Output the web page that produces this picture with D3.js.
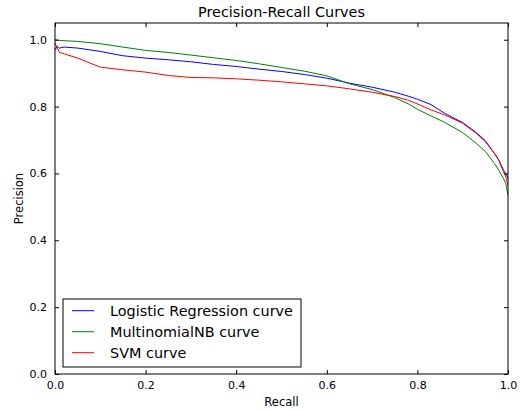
<!DOCTYPE html>
<html><head><meta charset="utf-8">
<script src="https://cdn.jsdelivr.net/npm/d3@7"></script>
<style>body{margin:0;background:#fff}svg{display:block}text{font-family:"DejaVu Sans",sans-serif;fill:#000}</style>
</head><body><svg id="c" width="521" height="411"></svg>
<script>
const recall = [0, 0.005, 0.01, 0.02, 0.05, 0.1, 0.15, 0.2, 0.25, 0.3, 0.35, 0.4, 0.45, 0.5, 0.55, 0.6, 0.65, 0.7, 0.75, 0.78, 0.8, 0.83, 0.86, 0.9, 0.93, 0.95, 0.97, 0.98, 0.99, 0.995, 1.0];
const lrPrecision = [0.97, 0.98, 0.975, 0.978, 0.975, 0.965, 0.952, 0.945, 0.94, 0.934, 0.926, 0.92, 0.912, 0.905, 0.896, 0.885, 0.870, 0.858, 0.843, 0.831, 0.822, 0.806, 0.780, 0.752, 0.722, 0.698, 0.66, 0.64, 0.61, 0.60, 0.585];
const nbPrecision = [1.0, 0.999, 0.998, 0.997, 0.995, 0.988, 0.978, 0.968, 0.962, 0.954, 0.946, 0.938, 0.928, 0.917, 0.906, 0.892, 0.868, 0.851, 0.827, 0.808, 0.792, 0.772, 0.753, 0.722, 0.690, 0.666, 0.63, 0.609, 0.585, 0.57, 0.535];
const svmPrecision = [0.99, 0.975, 0.962, 0.958, 0.945, 0.918, 0.910, 0.903, 0.893, 0.887, 0.886, 0.883, 0.879, 0.874, 0.868, 0.862, 0.853, 0.843, 0.830, 0.819, 0.808, 0.79, 0.775, 0.750, 0.720, 0.695, 0.66, 0.638, 0.605, 0.59, 0.565];
const seriesNames = ["Logistic Regression curve", "MultinomialNB curve", "SVM curve"];
const seriesColors = ["#0000ff", "#008000", "#ff0000"];
const xTicks = [0, 0.2, 0.4, 0.6, 0.8, 1.0];
const yTicks = [0, 0.2, 0.4, 0.6, 0.8, 1.0];

const series = [lrPrecision, nbPrecision, svmPrecision];
const L = 55, R = 508, T = 23, B = 374;
const svg = d3.select("#c");
const x = d3.scaleLinear().domain([0, 1]).range([L, R]);
const y = d3.scaleLinear().domain([0, 1.05]).range([B, T]);

const line = d3.line().x(d => x(d[0])).y(d => y(d[1]));
series.forEach((s, i) => {
  svg.append("path").datum(recall.map((r, j) => [r, s[j]]))
    .attr("d", line).attr("fill", "none").attr("stroke", seriesColors[i]).attr("stroke-width", 1);
});

const fmt = d3.format(".1f");
const ax = (g) => g.selectAll(".domain").remove();
svg.append("g").attr("transform", `translate(0,${B})`)
  .call(d3.axisBottom(x).tickValues(xTicks).tickFormat(fmt).tickSizeInner(-4).tickSizeOuter(0).tickPadding(7))
  .call(ax).call(g => g.selectAll("text").attr("font-size", 11).attr("font-family", "DejaVu Sans"));
svg.append("g").attr("transform", `translate(0,${T})`)
  .call(d3.axisTop(x).tickValues(xTicks).tickFormat("").tickSizeInner(-4).tickSizeOuter(0)).call(ax);
svg.append("g").attr("transform", `translate(${L},0)`)
  .call(d3.axisLeft(y).tickValues(yTicks).tickFormat(fmt).tickSizeInner(-4).tickSizeOuter(0).tickPadding(8))
  .call(ax).call(g => g.selectAll("text").attr("font-size", 11).attr("font-family", "DejaVu Sans"));
svg.append("g").attr("transform", `translate(${R},0)`)
  .call(d3.axisRight(y).tickValues(yTicks).tickFormat("").tickSizeInner(-4).tickSizeOuter(0)).call(ax);

svg.append("rect").attr("x", L).attr("y", T).attr("width", R - L).attr("height", B - T)
  .attr("fill", "none").attr("stroke", "#000").attr("stroke-width", 1);

svg.append("text").attr("x", (L + R) / 2).attr("y", 17).attr("text-anchor", "middle")
  .attr("font-size", 14.4).text("Precision-Recall Curves");
svg.append("text").attr("x", (L + R) / 2).attr("y", 406).attr("text-anchor", "middle")
  .attr("font-size", 11.5).text("Recall");
svg.append("text").attr("transform", `translate(23,${(T + B) / 2}) rotate(-90)`).attr("text-anchor", "middle")
  .attr("font-size", 11.5).text("Precision");

const lg = svg.append("g");
lg.append("rect").attr("x", 63).attr("y", 299).attr("width", 238).attr("height", 68)
  .attr("fill", "#fff").attr("stroke", "#000").attr("stroke-width", 1);
seriesNames.forEach((n, i) => {
  const yy = 310.7 + i * 21;
  lg.append("line").attr("x1", 72).attr("x2", 94).attr("y1", yy).attr("y2", yy)
    .attr("stroke", seriesColors[i]).attr("stroke-width", 1);
  lg.append("text").attr("x", 110).attr("y", yy).attr("dy", "0.36em").attr("font-size", 14.4).text(n);
});
</script></body></html>
